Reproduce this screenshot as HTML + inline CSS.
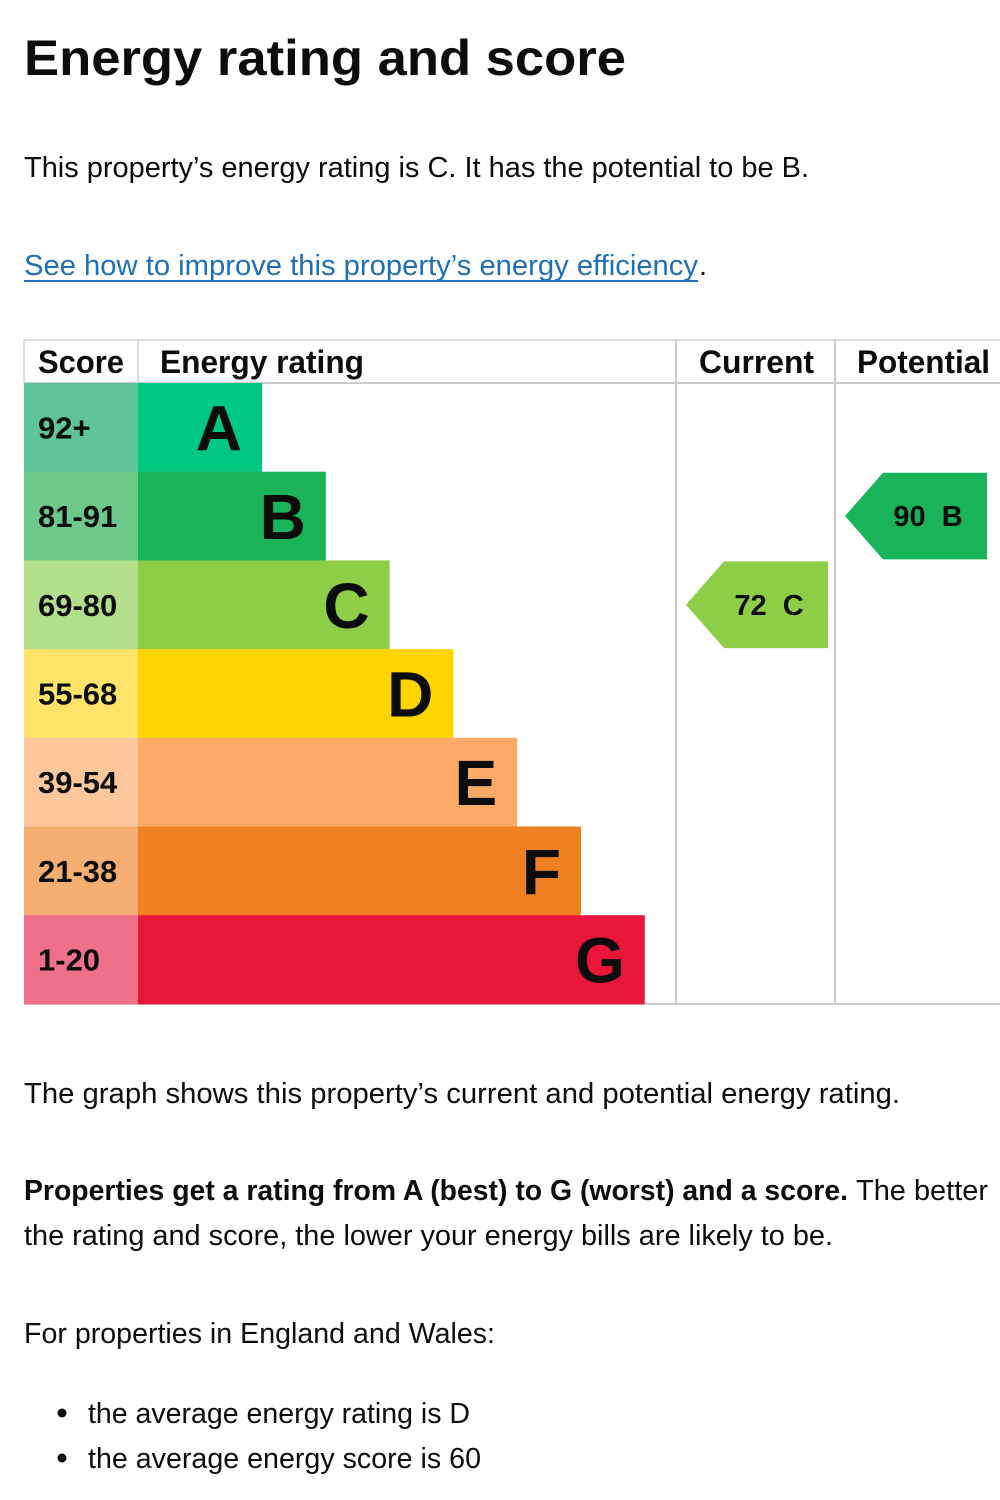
<!DOCTYPE html>
<html><head><meta charset="utf-8"><style>
html,body{margin:0;padding:0;background:#fff;width:1000px;height:1500px;overflow:hidden}
svg text{font-family:"Liberation Sans",Arial,sans-serif;fill:#0b0c0c}
</style></head><body>
<svg id="epc" width="1000" height="1500" viewBox="0 0 1000 1500" xmlns="http://www.w3.org/2000/svg">
<text x="24" y="75" font-size="50" font-weight="bold" textLength="602" lengthAdjust="spacingAndGlyphs">Energy rating and score</text>
<text x="24" y="177" font-size="29" textLength="785" lengthAdjust="spacingAndGlyphs">This property’s energy rating is C. It has the potential to be B.</text>
<a>
<text x="24" y="275" font-size="29" style="fill:#1d70b8" textLength="674" lengthAdjust="spacingAndGlyphs">See how to improve this property’s energy efficiency</text>
<rect x="24" y="280" width="674" height="2" fill="#1d70b8"/>
</a>
<text x="699" y="275" font-size="29">.</text>
<g id="chart"></g>
<text x="24" y="1103" font-size="29" textLength="876" lengthAdjust="spacingAndGlyphs">The graph shows this property’s current and potential energy rating.</text>
<text x="24" y="1200" font-size="29" font-weight="bold" textLength="824" lengthAdjust="spacingAndGlyphs">Properties get a rating from A (best) to G (worst) and a score.</text>
<text x="856" y="1200" font-size="29" textLength="132" lengthAdjust="spacingAndGlyphs">The better</text>
<text x="24" y="1245" font-size="29" textLength="809" lengthAdjust="spacingAndGlyphs">the rating and score, the lower your energy bills are likely to be.</text>
<text x="24" y="1343" font-size="29" textLength="471" lengthAdjust="spacingAndGlyphs">For properties in England and Wales:</text>
<circle cx="62" cy="1413" r="4.5" fill="#0b0c0c"/>
<text x="88" y="1423" font-size="29" textLength="382" lengthAdjust="spacingAndGlyphs">the average energy rating is D</text>
<circle cx="62" cy="1458" r="4.5" fill="#0b0c0c"/>
<text x="88" y="1468" font-size="29" textLength="393" lengthAdjust="spacingAndGlyphs">the average energy score is 60</text>
</svg>
<script>
const bandLetters=["A","B","C","D","E","F","G"];
const bandRanges=["92+","81-91","69-80","55-68","39-54","21-38","1-20"];
const bandMinScores=[92,81,69,55,39,21,1];
const bandColors=["#00c781","#19b459","#8dce46","#ffd500","#fcaa65","#ef8023","#e9153b"];
const scoreColors=["#5fc39b","#6dc88a","#b3de8c","#ffe36b","#fdc79b","#f4ae72","#ef7189"];
const currentScore=72;
const potentialScore=90;

const NS="http://www.w3.org/2000/svg";
const g=document.getElementById('chart');
const top0=383,rowH=88.7,barX=138,barStep=63.8,barW0=124;
const rowY=i=>top0+i*rowH;
const barEnd=i=>barX+barW0+i*barStep;
function bandOf(s){for(let i=0;i<bandMinScores.length;i++){if(s>=bandMinScores[i])return i;}return bandMinScores.length-1;}
function mk(tag,attrs){const e=document.createElementNS(NS,tag);for(const k in attrs)e.setAttribute(k,attrs[k]);g.appendChild(e);return e;}
const bottom=rowY(bandLetters.length);
// header & grid
mk('line',{x1:24,y1:340,x2:1000,y2:340,stroke:'#ddd','stroke-width':2});
mk('line',{x1:24,y1:383,x2:1000,y2:383,stroke:'#ccc','stroke-width':2});
mk('line',{x1:24,y1:bottom,x2:1000,y2:bottom,stroke:'#ccc','stroke-width':2});
mk('line',{x1:24,y1:340,x2:24,y2:383,stroke:'#ddd','stroke-width':2});
mk('line',{x1:138,y1:340,x2:138,y2:383,stroke:'#ddd','stroke-width':2});
mk('line',{x1:676,y1:340,x2:676,y2:bottom,stroke:'#ccc','stroke-width':2});
mk('line',{x1:835,y1:340,x2:835,y2:bottom,stroke:'#ccc','stroke-width':2});
const heads=[["Score",38,86,'score-header'],["Energy rating",160,204,'energy-rating-header'],["Current",699,115,'current-header'],["Potential",857,133,'potential-header']];
heads.forEach(h=>{const t=mk('text',{x:h[1],y:373,'font-size':32,'font-weight':'bold',textLength:h[2],lengthAdjust:'spacingAndGlyphs'});t.textContent=h[0];

});
bandLetters.forEach((L,i)=>{
 const y=rowY(i);
 const sc=mk('rect',{x:24,y:y,width:114,height:rowH+0.5,fill:scoreColors[i]});
 
 
 const st=mk('text',{x:38,y:y+rowH/2+11,'font-size':31,'font-weight':'bold'});st.textContent=bandRanges[i];
 
 
 const b=mk('rect',{x:barX,y:y,width:barEnd(i)-barX,height:rowH+0.5,fill:bandColors[i]});
 
 
 const lt=mk('text',{x:barEnd(i)-20,y:y+rowH/2+23,'font-size':64,'font-weight':'bold','text-anchor':'end'});lt.textContent=L;
 
 
});
function arrow(score,x0,name){
 const i=bandOf(score),y=rowY(i)+1,h=rowH-2,w=142,tip=38;
 const p=mk('polygon',{points:`${x0},${y+h/2} ${x0+tip},${y} ${x0+w},${y} ${x0+w},${y+h} ${x0+tip},${y+h}`,fill:bandColors[i]});
 
 
 const t=mk('text',{x:x0+83,y:y+h/2+10,'font-size':29,'font-weight':'bold','text-anchor':'middle','xml:space':'preserve'});
 t.textContent=score+'\u00a0\u00a0'+bandLetters[i];
 
 
}
arrow(currentScore,686,'current');
arrow(potentialScore,845,'potential');
</script>
</body></html>
